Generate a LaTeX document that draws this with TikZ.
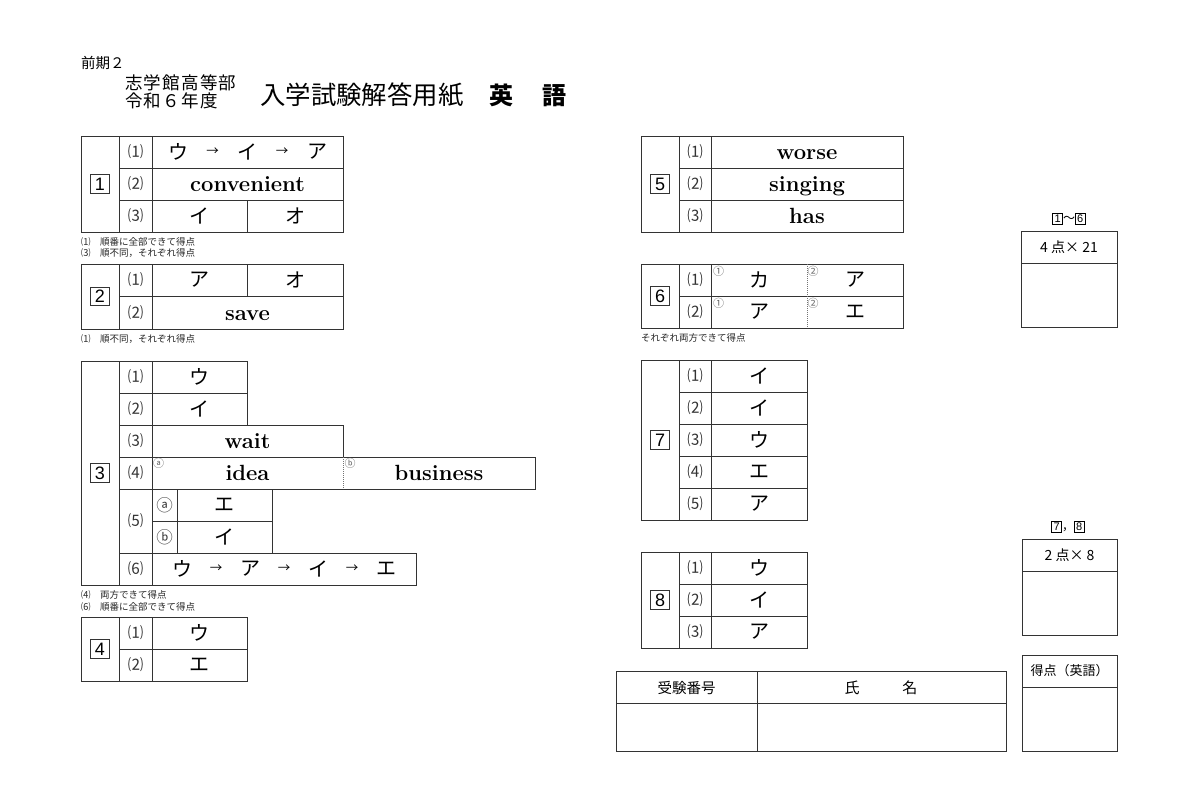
\documentclass[tikz,border=0pt]{standalone}
\usepackage{fontspec}
\newfontfamily\cjk{Noto Sans CJK JP}
\newfontfamily\cjksp{Noto Sans CJK JP}[LetterSpace=7]
\newfontfamily\hv{Liberation Sans}
\newcommand\fs[1]{\fontsize{#1}{#1}\selectfont}
\newcommand\smallbx[1]{{\setlength\fboxsep{1.6pt}\setlength\fboxrule{0.6pt}\fbox{\hv\fs{11}#1}}}
\begin{document}
\begin{tikzpicture}[x=1pt,y=-1pt,
 ln/.style={draw=black!80, line width=1pt},
 dotl/.style={draw=black!55, line width=0.7pt, dash pattern=on 1pt off 1pt},
 lab/.style={font=\cjk\fs{15.5}, text=black!80, inner sep=0},
 kana/.style={font=\cjk\fs{20}, inner sep=0},
 eng/.style={font=\bfseries\fs{22}, inner sep=0, anchor=base},
 arrw/.style={font=\cjk\fs{12.5}, inner sep=0},
 note/.style={font=\cjk\fs{9.5}, anchor=west, inner sep=0, text=black!85},
 secnum/.style={draw=black!80, line width=0.8pt, font=\hv\fs{18}, minimum width=18.6pt, minimum height=18.6pt, inner sep=0},
 circs/.style={font=\cjk\fs{11}, text=black!60, inner sep=0},
 circl/.style={font=\cjk\fs{16.5}, text=black!75, inner sep=0},
 score/.style={font=\cjk\fs{14}, inner sep=0},
]
\useasboundingbox[fill=white] (0,0) rectangle (1200,800);
% header
\node[font=\cjk\fs{14.5}, anchor=west, inner sep=0] (h1) at (81,62.7) {前期２};
\node[font=\cjksp\fs{17.5}, anchor=west, inner sep=0] (h2) at (125,82.5) {志学館高等部};
\node[font=\cjksp\fs{17.5}, anchor=west, inner sep=0] (h3) at (125,101) {令和６年度};
\node[font=\cjk\fs{25.4}, anchor=west, inner sep=0] (h4) at (260,95) {入学試験解答用紙};
\node[font=\cjk\bfseries\fs{24}, anchor=west, inner sep=0] (h5) at (489,95) {英\hspace{29.5pt}語};

% section 1
\draw[ln] (81,136) rectangle (343,232);
\draw[ln] (119,136)--(119,232) (152,136)--(152,232) (119,168)--(343,168) (119,200)--(343,200) (247,200)--(247,232);
\node[secnum] (n1) at (100,184) {1};
\node[lab] (l11) at (135.5,152) {⑴};
\node[lab] (l12) at (135.5,184) {⑵};
\node[lab] (l13) at (135.5,216) {⑶};
\node[kana] (a11a) at (178,152) {ウ};
\node[arrw] (a11b) at (212.5,152) {→};
\node[kana] (a11c) at (247.5,152) {イ};
\node[arrw] (a11d) at (282,152) {→};
\node[kana] (a11e) at (317,152) {ア};
\node[eng] (a12) at (247.5,191.5) {convenient};
\node[kana] (a13a) at (199.5,216) {イ};
\node[kana] (a13b) at (295,216) {オ};
\node[note] (m1a) at (81,241.5) {⑴　順番に全部できて得点};
\node[note] (m1b) at (81,253) {⑶　順不同，それぞれ得点};

% section 2
\draw[ln] (81,264) rectangle (343,329);
\draw[ln] (119,264)--(119,329) (152,264)--(152,329) (119,296.5)--(343,296.5) (247,264)--(247,296.5);
\node[secnum] (n2) at (100,296.5) {2};
\node[lab] (l21) at (135.5,280) {⑴};
\node[lab] (l22) at (135.5,313) {⑵};
\node[kana] (a21a) at (199.5,280) {ア};
\node[kana] (a21b) at (295,280) {オ};
\node[eng] (a22) at (247.5,320.5) {save};
\node[note] (m2) at (81,339) {⑴　順不同，それぞれ得点};

% section 3
\draw[ln] (81,361) rectangle (119,585);
\draw[ln] (119,361) rectangle (247,393);
\draw[ln] (119,393) rectangle (247,425);
\draw[ln] (119,425) rectangle (343,457);
\draw[ln] (119,457) rectangle (535,489);
\draw[ln] (119,489) rectangle (272,553);
\draw[ln] (119,553) rectangle (416,585);
\draw[ln] (152,361)--(152,585) (177,489)--(177,553) (152,521)--(272,521);
\draw[dotl] (343,457)--(343,489);
\node[secnum] (n3) at (100,473) {3};
\node[lab] (l31) at (135.5,377) {⑴};
\node[lab] (l32) at (135.5,409) {⑵};
\node[lab] (l33) at (135.5,441) {⑶};
\node[lab] (l34) at (135.5,473) {⑷};
\node[lab] (l35) at (135.5,521) {⑸};
\node[lab] (l36) at (135.5,569) {⑹};
\node[kana] (a31) at (199.5,377) {ウ};
\node[kana] (a32) at (199.5,409) {イ};
\node[eng] (a33) at (247.5,448.5) {wait};
\node[circs] (c34a) at (158.5,463.5) {ⓐ};
\node[eng] (a34a) at (247.5,480.5) {idea};
\node[circs] (c34b) at (350,463.5) {ⓑ};
\node[eng] (a34b) at (439,480.5) {business};
\node[circl] (c35a) at (164.5,505) {ⓐ};
\node[circl] (c35b) at (164.5,537) {ⓑ};
\node[kana] (a35a) at (224.5,505) {エ};
\node[kana] (a35b) at (224.5,537) {イ};
\node[kana] (a36a) at (182,569) {ウ};
\node[arrw] (a36b) at (216,569) {→};
\node[kana] (a36c) at (250,569) {ア};
\node[arrw] (a36d) at (284,569) {→};
\node[kana] (a36e) at (318,569) {イ};
\node[arrw] (a36f) at (352,569) {→};
\node[kana] (a36g) at (386,569) {エ};
\node[note] (m3a) at (81,595) {⑷　両方できて得点};
\node[note] (m3b) at (81,606.5) {⑹　順番に全部できて得点};

% section 4
\draw[ln] (81,617) rectangle (247,681);
\draw[ln] (119,617)--(119,681) (152,617)--(152,681) (119,649)--(247,649);
\node[secnum] (n4) at (100,649) {4};
\node[lab] (l41) at (135.5,633) {⑴};
\node[lab] (l42) at (135.5,665) {⑵};
\node[kana] (a41) at (199.5,633) {ウ};
\node[kana] (a42) at (199.5,665) {エ};

% section 5
\draw[ln] (641,136) rectangle (903,232);
\draw[ln] (679,136)--(679,232) (711,136)--(711,232) (679,168)--(903,168) (679,200)--(903,200);
\node[secnum] (n5) at (660,184) {5};
\node[lab] (l51) at (695,152) {⑴};
\node[lab] (l52) at (695,184) {⑵};
\node[lab] (l53) at (695,216) {⑶};
\node[eng] (a51) at (807,159.5) {worse};
\node[eng] (a52) at (807,191.5) {singing};
\node[eng] (a53) at (807,223.5) {has};

% section 6
\draw[ln] (641,264) rectangle (903,328);
\draw[ln] (679,264)--(679,328) (711,264)--(711,328) (679,296)--(903,296);
\draw[dotl] (807,264)--(807,328);
\node[secnum] (n6) at (660,296) {6};
\node[lab] (l61) at (695,280) {⑴};
\node[lab] (l62) at (695,312) {⑵};
\node[circs] (c61a) at (718.5,271) {①};
\node[circs] (c61b) at (813,271) {②};
\node[circs] (c62a) at (718.5,303) {①};
\node[circs] (c62b) at (813,303) {②};
\node[kana] (a61a) at (759,280) {カ};
\node[kana] (a61b) at (855,280) {ア};
\node[kana] (a62a) at (759,312) {ア};
\node[kana] (a62b) at (855,312) {エ};
\node[note] (m6) at (641,338) {それぞれ両方できて得点};

% section 7
\draw[ln] (641,360) rectangle (807,520);
\draw[ln] (679,360)--(679,520) (711,360)--(711,520) (679,392)--(807,392) (679,424)--(807,424) (679,456)--(807,456) (679,488)--(807,488);
\node[secnum] (n7) at (660,440) {7};
\node[lab] (l71) at (695,376) {⑴};
\node[lab] (l72) at (695,408) {⑵};
\node[lab] (l73) at (695,440) {⑶};
\node[lab] (l74) at (695,472) {⑷};
\node[lab] (l75) at (695,504) {⑸};
\node[kana] (a71) at (759,376) {イ};
\node[kana] (a72) at (759,408) {イ};
\node[kana] (a73) at (759,440) {ウ};
\node[kana] (a74) at (759,472) {エ};
\node[kana] (a75) at (759,504) {ア};

% section 8
\draw[ln] (641,552) rectangle (807,648);
\draw[ln] (679,552)--(679,648) (711,552)--(711,648) (679,584)--(807,584) (679,616)--(807,616);
\node[secnum] (n8) at (660,600) {8};
\node[lab] (l81) at (695,568) {⑴};
\node[lab] (l82) at (695,600) {⑵};
\node[lab] (l83) at (695,632) {⑶};
\node[kana] (a81) at (759,568) {ウ};
\node[kana] (a82) at (759,600) {イ};
\node[kana] (a83) at (759,632) {ア};

% score boxes
\node[font=\cjk\fs{12}, inner sep=0] (t1) at (1069,219) {\smallbx{1}～\smallbx{6}};
\draw[ln] (1021,231) rectangle (1117,327);
\draw[ln] (1021,263)--(1117,263);
\node[score] (s1) at (1069,247) {4 点× 21};
\node[font=\cjk\fs{12}, inner sep=0] (t2) at (1068,527) {\smallbx{7}，\smallbx{8}};
\draw[ln] (1022,539) rectangle (1117,635);
\draw[ln] (1022,571)--(1117,571);
\node[score] (s2) at (1069.5,555) {2 点× 8};
\draw[ln] (1022,655) rectangle (1117,751);
\draw[ln] (1022,687)--(1117,687);
\node[font=\cjk\fs{13}, inner sep=0] (s3) at (1069.5,671) {得点（英語）};

% name box
\draw[ln] (616,671) rectangle (1006,751);
\draw[ln] (616,703)--(1006,703) (757,671)--(757,751);
\node[font=\cjk\fs{14.5}, inner sep=0] (b1) at (686.5,687.5) {受験番号};
\node[font=\cjk\fs{15}, inner sep=0] (b2) at (881,687.5) {氏\hspace{43pt}名};
\end{tikzpicture}
\end{document}
